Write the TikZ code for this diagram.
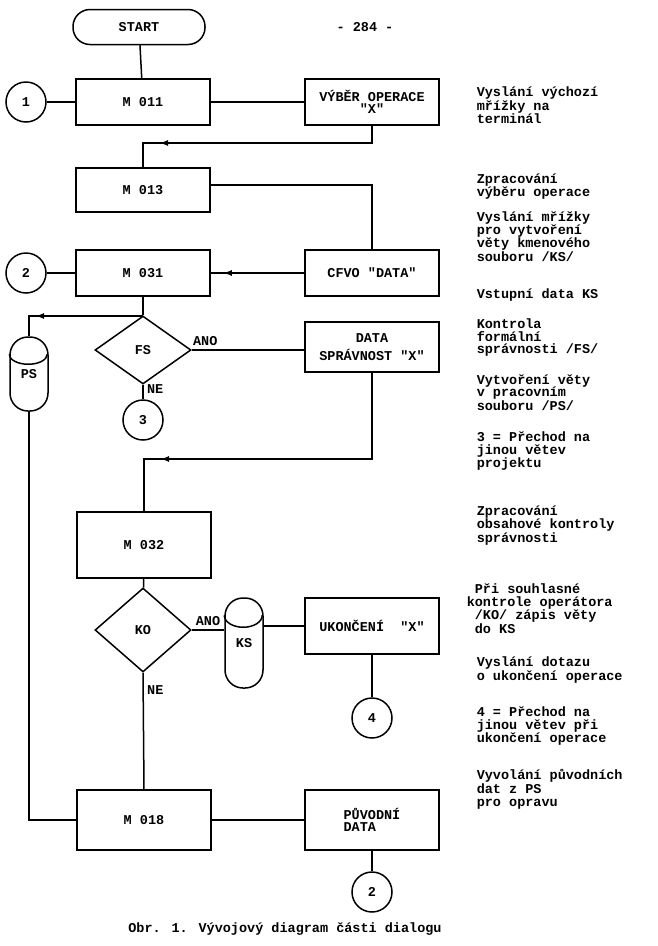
\documentclass[tikz,border=0pt]{standalone}
\usepackage{fontspec}
\setmainfont{Liberation Mono}
\usetikzlibrary{shapes.geometric,calc,arrows.meta}

\tikzset{
	box/.style={draw, minimum width=134pt, minimum height=46pt},
	circ/.style={draw, circle, minimum size=40pt, inner sep=0pt},
	dec/.style={draw, diamond, minimum width=96pt, minimum height=68pt, inner sep=0pt},
	drum/.style={draw, rounded corners=18pt, minimum width=38pt, minimum height=74pt},
	note/.style={anchor=north west, align=left, inner sep=0pt},
	tip/.style={-{Latex[length=9pt,width=6pt]}, line width=2pt},
}
\newcommand{\qq}{\textquotedbl}

\begin{document}
\begin{tikzpicture}[x=1pt, y=-1pt, line width=1.5pt, font=\bfseries\fontsize{13.5}{12.5}\selectfont]
	\useasboundingbox (0,0) rectangle (658,946);

	\node[draw, rounded corners=17pt, minimum width=132pt, minimum height=35pt] (start) at (139,27) {START};
	\node (page) at (365,27) {- 284 -};

	\node[box] (m011) at (143,102) {M 011};
	\node[circ] (c1) at (26,102) {1};
	\node[box, align=center] (vyber) at (372,102) {VÝBĚR OPERACE\\\qq X\qq};

	\node[box, minimum height=44pt] (m013) at (143,190) {M 013};

	\node[box] (m031) at (143,273) {M 031};
	\node[circ] (c2) at (26,273) {2};
	\node[box] (cfvo) at (372,273) {CFVO \qq DATA\qq};

	\node[dec] (fs) at (143,350) {FS};
	\node[drum] (ps) at (29,374) {PS};
	\node[box, minimum height=50pt, align=center] (data) at (372,347) {DATA\\[6pt]SPRÁVNOST \qq X\qq};
	\node[circ] (c3) at (143,420) {3};

	\node[box, minimum height=66pt] (m032) at (144,545) {M 032};
	\node[dec, minimum height=84pt] (ko) at (143,630) {KO};
	\node[drum, minimum height=90pt] (ks) at (244,643) {KS};
	\node[box, minimum height=56pt] (ukon) at (372,626) {UKONČENÍ~~\qq X\qq};
	\node[circ] (c4) at (372,718) {4};

	\node[box, minimum height=60pt] (m018) at (144,820) {M 018};
	\node[box, minimum height=60pt, align=left] (puv) at (372,820) {PŮVODNÍ\\DATA};
	\node[circ] (c2b) at (372,892) {2};

	% drum tops
	\draw ($(ps.north west)+(0,18)$) arc[start angle=180, end angle=360, x radius=19pt, y radius=10pt];
	\draw ($(ks.north west)+(0,18)$) arc[start angle=180, end angle=360, x radius=19pt, y radius=12pt];

	% junction points
	\coordinate (j1) at (m013.north |- 0,143);
	\coordinate (j2) at (m031.south |- 0,316);
	\coordinate (j3) at (m032.north |- 0,459);
	\coordinate (j4) at (ps.south |- m018.west);

	\draw (start) -- (m011);
	\draw (c1) -- (m011);
	\draw (m011) -- (vyber);
	\draw (vyber.south) |- (j1) -- (m013.north);
	\draw[tip] ($(j1)+(34,0)$) -- ($(j1)+(16,0)$);
	\draw (m013.east |- 0,185) -| (cfvo.north);
	\draw (c2) -- (m031);
	\draw (cfvo) -- (m031);
	\draw[tip] ($(m031.east)+(34,0)$) -- ($(m031.east)+(12,0)$);
	\draw (m031.south) -- (fs.north);
	\draw (j2) -| (ps.north);
	\draw[tip] ($(j2)+(-95,0)$) -- ($(j2)+(-108,0)$);
	\draw (fs.east) -- node[above, pos=0.12] {ANO} (fs.east -| data.west);
	\draw (fs.south) -- node[right, pos=0.3] {NE} (c3);
	\draw (data.south) |- (j3) -- (m032.north);
	\draw[tip] ($(j3)+(34,0)$) -- ($(j3)+(16,0)$);
	\draw (m032) -- (ko);
	\draw (ko.east) -- node[above, pos=0.5] {ANO} (ko.east -| ks.west);
	\draw (ks.east |- ukon.west) -- (ukon.west);
	\draw (ukon) -- (c4);
	\draw (ko.south) -- node[right, pos=0.15] {NE} (m018.north);
	\draw (ps.south) -- (j4) -- (m018.west);
	\draw (m018) -- (puv);
	\draw (puv) -- (c2b);

	% notes
	\node[note] (n1) at (476,86) {Vyslání výchozí\\mřížky na\\terminál};
	\node[note] (n2) at (476,173) {Zpracování\\výběru operace};
	\node[note] (n3) at (476,211) {Vyslání mřížky\\pro vytvoření\\věty kmenového\\souboru /KS/};
	\node[note] (n4) at (476,288) {Vstupní data KS};
	\node[note] (n5) at (476,318) {Kontrola\\formální\\správnosti /FS/};
	\node[note] (n6) at (476,374) {Vytvoření věty\\v pracovním\\souboru /PS/};
	\node[note] (n7) at (476,431) {3 = Přechod na\\jinou větev\\projektu};
	\node[note] (n8) at (476,505) {Zpracování\\obsahové kontroly\\správnosti};
	\node[note] (n9) at (466,583) {~Při souhlasné\\kontrole operátora\\~/KO/ zápis věty\\~do KS};
	\node[note] (n10) at (476,656) {Vyslání dotazu\\o ukončení operace};
	\node[note] (n11) at (476,706) {4 = Přechod na\\jinou větev při\\ukončení operace};
	\node[note] (n12) at (476,769) {Vyvolání původních\\dat z PS\\pro opravu};

	\node (cap) at (285,929) {Obr. 1. Vývojový diagram části dialogu};

\end{tikzpicture}
\end{document}
